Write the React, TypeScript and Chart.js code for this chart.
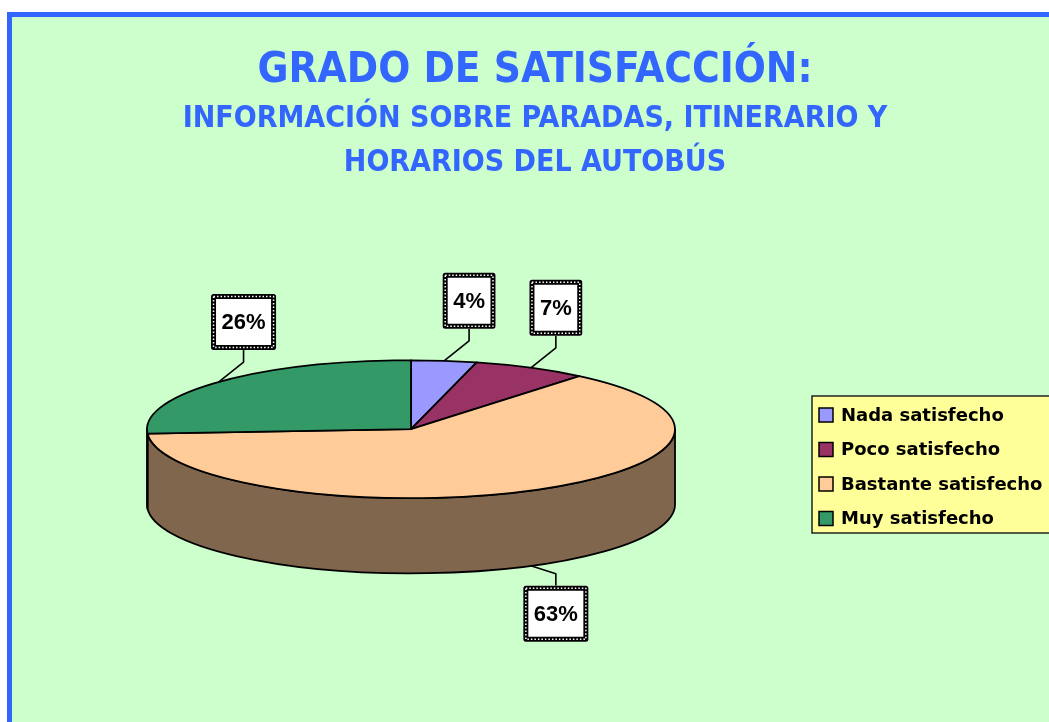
import React, { useEffect, useRef } from 'react';
import { Chart, registerables, layouts } from 'chart.js';

Chart.register(...registerables);

const categories = ['Nada satisfecho', 'Poco satisfecho', 'Bastante satisfecho', 'Muy satisfecho'];
const values = [4, 7, 63, 26];
const sliceColors = ['#9999FF', '#993366', '#FFCC99', '#339966'];
const titleText = 'GRADO DE SATISFACCIÓN:';
const subtitleLines = ['INFORMACIÓN SOBRE PARADAS, ITINERARIO Y', 'HORARIOS DEL AUTOBÚS'];

const TITLE_FONT = "'Liberation Sans Narrow', 'DejaVu Sans Condensed', 'Roboto Condensed', 'Liberation Sans', sans-serif";
const LABEL_FONT = "'Liberation Sans', Arial, sans-serif";
const LEGEND_FONT = "'DejaVu Sans', sans-serif";

function darken(hex: string): string {
  const n = parseInt(hex.slice(1), 16);
  const r = Math.round(((n >> 16) & 255) / 2);
  const g = Math.round(((n >> 8) & 255) / 2);
  const b = Math.round((n & 255) / 2);
  return `rgb(${r},${g},${b})`;
}

const TILT = 0.261;
const DEPTH = 0.285;
const LEGEND_SPACE = 248;

// reserves the right-hand column where the legend panel sits
const legendSpacer = {
  id: 'legendSpacer',
  beforeInit(chart: any) {
    const box: any = {
      position: 'right',
      weight: 10,
      fullSize: false,
      options: {},
      width: 0,
      height: 0,
      left: 0,
      top: 0,
      right: 0,
      bottom: 0,
      isHorizontal() {
        return false;
      },
      update(_maxWidth: number, maxHeight: number) {
        this.width = LEGEND_SPACE;
        this.height = maxHeight;
      },
      draw() {},
    };
    layouts.addBox(chart, box);
  },
};

const pie3d = {
  id: 'pie3d',
  beforeDatasetsDraw(chart: any) {
    const ctx: CanvasRenderingContext2D = chart.ctx;
    const meta = chart.getDatasetMeta(0);
    const arcs = meta.data;
    const ds = chart.data.datasets[0];
    const bg = ds.backgroundColor as string[];
    const el0 = arcs[0];
    const cx = el0.x;
    const cy = el0.y;
    const rx = el0.outerRadius;
    const ry = rx * TILT;
    const depth = rx * DEPTH;

    ctx.save();
    ctx.lineWidth = 1.8;
    ctx.strokeStyle = '#000';
    ctx.lineJoin = 'round';

    // side walls (front half only)
    arcs.forEach((arc: any, i: number) => {
      const s = Math.max(arc.startAngle, 0);
      const e = Math.min(arc.endAngle, Math.PI);
      if (e > s) {
        ctx.beginPath();
        ctx.ellipse(cx, cy, rx, ry, 0, s, e);
        ctx.lineTo(cx + rx * Math.cos(e), cy + depth + ry * Math.sin(e));
        ctx.ellipse(cx, cy + depth, rx, ry, 0, e, s, true);
        ctx.closePath();
        ctx.fillStyle = darken(bg[i]);
        ctx.fill();
        ctx.stroke();
      }
    });

    // top faces
    arcs.forEach((arc: any, i: number) => {
      ctx.beginPath();
      ctx.moveTo(cx, cy);
      ctx.ellipse(cx, cy, rx, ry, 0, arc.startAngle, arc.endAngle);
      ctx.closePath();
      ctx.fillStyle = bg[i];
      ctx.fill();
      ctx.stroke();
    });

    // data labels
    const total = (ds.data as number[]).reduce((a: number, b: number) => a + b, 0);
    ctx.font = `bold 22px ${LABEL_FONT}`;
    arcs.forEach((arc: any, i: number) => {
      const mid = (arc.startAngle + arc.endAngle) / 2;
      const front = Math.sin(mid) > 0;
      const ex = cx + rx * Math.cos(mid);
      const ey = cy + ry * Math.sin(mid) + (front ? depth : 0);
      const text = `${Math.round(((ds.data[i] as number) / total) * 100)}%`;
      const tw = ctx.measureText(text).width;
      const bw = tw + 21;
      const bh = 56;
      const bx = ex + 25;
      const by = front ? ey + 48 : ey - 60;
      const left = bx - bw / 2;
      const top = by - bh / 2;
      // leader
      ctx.beginPath();
      ctx.lineWidth = 1.6;
      ctx.strokeStyle = '#000';
      if (front) {
        ctx.moveTo(bx, top);
        ctx.lineTo(bx, top - 12);
      } else {
        ctx.moveTo(bx, top + bh);
        ctx.lineTo(bx, top + bh + 12);
      }
      ctx.lineTo(ex, ey);
      ctx.stroke();
      // box
      ctx.fillStyle = '#FFFFFF';
      ctx.fillRect(left, top, bw, bh);
      ctx.lineWidth = 5;
      ctx.strokeStyle = '#000';
      ctx.strokeRect(left + 2.5, top + 2.5, bw - 5, bh - 5);
      ctx.save();
      ctx.setLineDash([1.5, 2]);
      ctx.lineWidth = 1.5;
      ctx.strokeStyle = '#FFFFFF';
      ctx.strokeRect(left + 2.5, top + 2.5, bw - 5, bh - 5);
      ctx.restore();
      ctx.fillStyle = '#000';
      ctx.textAlign = 'center';
      ctx.textBaseline = 'middle';
      ctx.fillText(text, bx, by + 1);
    });

    ctx.restore();
    return false;
  },
  afterDraw(chart: any) {
    const ctx: CanvasRenderingContext2D = chart.ctx;
    const ds = chart.data.datasets[0];
    const bg = ds.backgroundColor as string[];
    const labels = chart.data.labels as string[];
    const boxLeft = chart.chartArea.right + 2;
    const boxTop = 379;
    const rowH = 34.5;
    const boxH = rowH * labels.length - 1;
    ctx.save();
    ctx.fillStyle = '#FFFF99';
    ctx.fillRect(boxLeft, boxTop, chart.width - boxLeft + 20, boxH);
    ctx.lineWidth = 1.5;
    ctx.strokeStyle = '#222';
    ctx.strokeRect(boxLeft, boxTop, chart.width - boxLeft + 20, boxH);
    ctx.font = `bold 18px ${LEGEND_FONT}`;
    ctx.textBaseline = 'middle';
    ctx.textAlign = 'left';
    labels.forEach((lab, i) => {
      const yc = boxTop + 19 + i * rowH;
      ctx.fillStyle = bg[i];
      ctx.fillRect(boxLeft + 7, yc - 7, 14, 14);
      ctx.lineWidth = 1.5;
      ctx.strokeStyle = '#000';
      ctx.strokeRect(boxLeft + 7, yc - 7, 14, 14);
      ctx.fillStyle = '#000';
      ctx.fillText(lab, boxLeft + 29, yc + 1);
    });
    ctx.restore();
  },
};

export default function App() {
  const ref = useRef<HTMLCanvasElement | null>(null);
  useEffect(() => {
    if (!ref.current) return;
    const chart = new Chart(ref.current, {
      type: 'pie',
      data: {
        labels: categories,
        datasets: [
          {
            data: values,
            backgroundColor: sliceColors,
            borderColor: '#000',
            borderWidth: 1,
          },
        ],
      },
      options: {
        responsive: false,
        animation: false,
        devicePixelRatio: 1,
        radius: 264,
        layout: { padding: { left: 0, right: 0, top: 0, bottom: 56 } },
        plugins: {
          legend: { display: false },
          tooltip: { enabled: false },
          title: {
            display: true,
            text: titleText,
            color: '#3366FF',
            font: { family: TITLE_FONT, size: 42, weight: 'bold', lineHeight: 1.2 },
            padding: { top: 29, bottom: 0 },
          },
          subtitle: {
            display: true,
            text: subtitleLines,
            color: '#3366FF',
            font: { family: TITLE_FONT, size: 30, weight: 'bold', lineHeight: 1.467 },
            padding: { top: 1, bottom: 7 },
          },
        },
      } as any,
      plugins: [legendSpacer, pie3d],
    });
    return () => chart.destroy();
  }, []);

  return (
    <div style={{ position: 'fixed', left: 0, top: 0, width: '100vw', height: '100vh', overflow: 'hidden', background: '#fff' }}>
      <div
        style={{
          position: 'absolute',
          left: 7,
          top: 12,
          width: 1070,
          height: 720,
          background: '#CCFFCC',
          borderLeft: '5px solid #3366FF',
          borderTop: '5px solid #3366FF',
        }}
      >
        <canvas ref={ref} width={1046} height={705} style={{ display: 'block' }} />
      </div>
    </div>
  );
}
